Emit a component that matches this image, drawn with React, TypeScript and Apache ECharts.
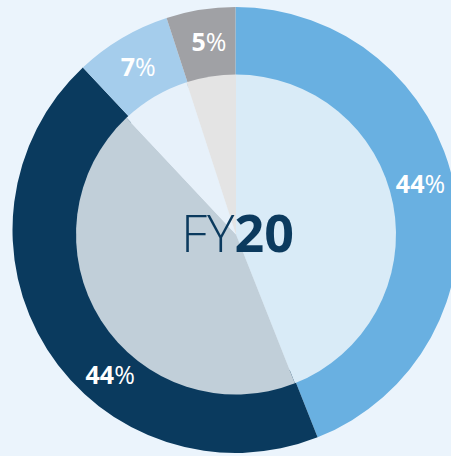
import React, { useEffect, useRef } from "react";
import * as echarts from "echarts";

const categories = ["A", "B", "C", "D"];
const values = [44, 44, 7, 5];
const outerColors = ["#69B0E1", "#0A3A5E", "#A5CDEC", "#A0A1A5"];
const innerColors = ["#D9EBF7", "#C1CFD9", "#E7F1FA", "#E4E4E4"];
const centerLabel = ["FY", "20"];
// label placement angles (degrees clockwise from 12 o'clock)
const labelAngles = [75.6, 221, 329.4, 352];

const OUTER_C = [235.5, 230];
const INNER_C = [236, 234.5];
const LABEL_R = 191;

export default function App() {
  const ref = useRef<HTMLDivElement>(null);
  useEffect(() => {
    if (!ref.current) return;
    const chart = echarts.init(ref.current, undefined, { renderer: "svg" });
    chart.setOption({
      animation: false,
      backgroundColor: "#EBF4FC",
      series: [
        {
          type: "pie",
          silent: true,
          center: OUTER_C,
          radius: [150, 223],
          startAngle: 90,
          clockwise: true,
          data: categories.map((c, i) => ({
            name: c,
            value: values[i],
            itemStyle: { color: outerColors[i] },
          })),
          itemStyle: { borderWidth: 0 },
          label: {
            show: true,
            position: "inside",
            formatter: (p: any) => `{b|${p.value}}{n|%}`,
            rich: {
              b: { fontFamily: "Open Sans", fontWeight: "bold", fontSize: 25, color: "#ffffff" },
              n: { fontFamily: "Open Sans", fontWeight: "normal", fontSize: 25, color: "#ffffff" },
            },
          },
          labelLayout: (p: any) => {
            const a = (labelAngles[p.dataIndex] * Math.PI) / 180;
            return {
              x: OUTER_C[0] + LABEL_R * Math.sin(a),
              y: OUTER_C[1] - LABEL_R * Math.cos(a),
              align: "center",
              verticalAlign: "middle",
            };
          },
          labelLine: { show: false },
        },
        {
          type: "pie",
          silent: true,
          center: INNER_C,
          radius: [0, 160],
          startAngle: 90,
          clockwise: true,
          data: categories.map((c, i) => ({
            name: c,
            value: values[i],
            itemStyle: { color: innerColors[i] },
          })),
          itemStyle: { borderWidth: 0 },
          label: { show: false },
          labelLine: { show: false },
        },
      ],
      graphic: [
        {
          type: "text",
          x: 237.5,
          y: 231,
          z: 100,
          style: {
            text: `{a|${centerLabel[0]}}{b|${centerLabel[1]}}`,
            align: "center",
            verticalAlign: "middle",
            rich: {
              a: { fontFamily: "Open Sans", fontWeight: 300, fontSize: 52, fill: "#0B3A5E", color: "#0B3A5E" },
              b: { fontFamily: "Open Sans", fontWeight: "bold", fontSize: 52, fill: "#0B3A5E", color: "#0B3A5E" },
            },
          },
        },
      ],
    });
    return () => chart.dispose();
  }, []);
  return (
    <div
      ref={ref}
      style={{ position: "fixed", left: 0, top: 0, width: 451, height: 456 }}
    />
  );
}
